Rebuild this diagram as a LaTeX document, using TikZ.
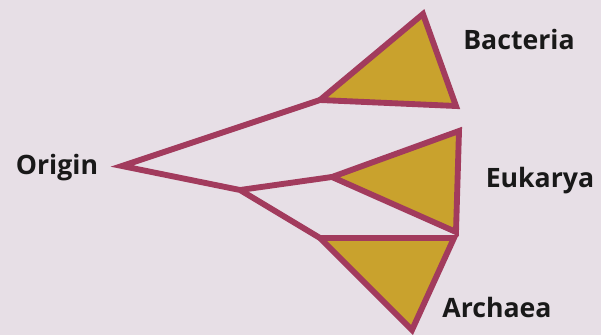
\documentclass[tikz,border=0pt]{standalone}
\usepackage{fontspec}
\setmainfont{Open Sans}
\definecolor{bgc}{HTML}{E7DFE6}
\definecolor{branch}{HTML}{A23B5D}
\definecolor{gold}{HTML}{C9A22D}
\begin{document}
\begin{tikzpicture}[x=0.75pt,y=-0.75pt,
  lbl/.style={font=\fontsize{20}{22}\selectfont\bfseries, anchor=base, inner sep=0pt, text=black!90},
  br/.style={draw=branch, line width=4.4pt, line join=miter, miter limit=10},
  clade/.style={br, fill=gold}]
\fill[bgc] (0,0) rectangle (601,335);
\useasboundingbox (0,0) rectangle (601,335);
\coordinate (O) at (122,166);
\coordinate (B) at (320,100);
\coordinate (L) at (240,190);
\coordinate (E) at (332,177);
\coordinate (A) at (320,238);
\coordinate (Bt) at (423,14);
\coordinate (Bb) at (456,106);
\coordinate (Et) at (459,131);
\coordinate (Eb) at (456,232);
\coordinate (Ar) at (454,238);
\coordinate (Ab) at (412,330);
\draw[br] (B) -- (O) -- (L) -- (A);
\draw[br] (L) -- (E);
\draw[clade] (B) -- (Bt) -- (Bb) -- cycle;
\draw[clade] (E) -- (Et) -- (Eb) -- cycle;
\draw[clade] (A) -- (Ar) -- (Ab) -- cycle;
\node[lbl] (orig) at (57,175) {Origin};
\node[lbl] (bact) at (519,50) {Bacteria};
\node[lbl] (euk) at (540,188) {Eukarya};
\node[lbl] (arch) at (497,318) {Archaea};
\end{tikzpicture}
\end{document}
